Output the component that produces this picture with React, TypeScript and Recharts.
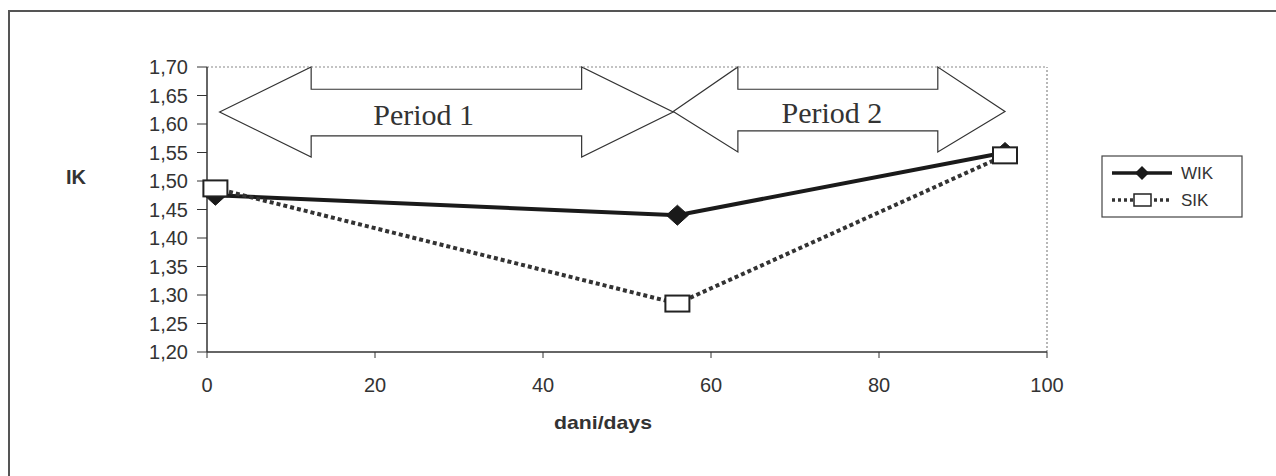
import React from 'react';
import { LineChart, Line, XAxis, YAxis, ReferenceLine, ReferenceArea, Legend } from 'recharts';

const days = [1, 56, 95];
const wikValues = [1.475, 1.44, 1.55];
const sikValues = [1.487, 1.285, 1.545];
const xTicks = [0, 20, 40, 60, 80, 100];
const yTicks = [1.2, 1.25, 1.3, 1.35, 1.4, 1.45, 1.5, 1.55, 1.6, 1.65, 1.7];

const periodNames = ['Period 1', 'Period 2'];
const arrowLeftTip = [1.5, 55.5];
const arrowShaftStart = [12.4, 63.2];
const arrowShaftEnd = [44.6, 87.0];
const arrowRightTip = [55.5, 95.0];
const arrowTipY = [1.621, 1.622];
const arrowHeadTop = [1.7, 1.7];
const arrowHeadBottom = [1.542, 1.551];
const arrowShaftTop = [1.661, 1.661];
const arrowShaftBottom = [1.579, 1.588];
const periodLabelX = [25.8, 74.4];
const periodLabelY = [1.598, 1.602];

const data = days.map((d, i) => ({ day: d, WIK: wikValues[i], SIK: sikValues[i] }));

const SANS = '"Liberation Sans", Arial, sans-serif';
const SERIF = '"Liberation Serif", "Times New Roman", serif';

const fmt = (v: number) => v.toFixed(2).replace('.', ',');

const makeArrowShape = (i: number) => (props: any) => {
  const { x, y, width, height } = props;
  const x1 = arrowLeftTip[i];
  const x2 = arrowRightTip[i];
  const y1 = arrowHeadBottom[i];
  const y2 = arrowHeadTop[i];
  const px = (v: number) => x + ((v - x1) / (x2 - x1)) * width;
  const py = (v: number) => y + ((y2 - v) / (y2 - y1)) * height;
  const pts = [
    [px(arrowLeftTip[i]), py(arrowTipY[i])],
    [px(arrowShaftStart[i]), py(arrowHeadTop[i])],
    [px(arrowShaftStart[i]), py(arrowShaftTop[i])],
    [px(arrowShaftEnd[i]), py(arrowShaftTop[i])],
    [px(arrowShaftEnd[i]), py(arrowHeadTop[i])],
    [px(arrowRightTip[i]), py(arrowTipY[i])],
    [px(arrowShaftEnd[i]), py(arrowHeadBottom[i])],
    [px(arrowShaftEnd[i]), py(arrowShaftBottom[i])],
    [px(arrowShaftStart[i]), py(arrowShaftBottom[i])],
    [px(arrowShaftStart[i]), py(arrowHeadBottom[i])],
  ];
  return (
    <g>
      <polygon
        points={pts.map((p) => p.join(',')).join(' ')}
        fill="none"
        stroke="#333"
        strokeWidth={1.2}
      />
      <text
        x={px(periodLabelX[i])}
        y={py(periodLabelY[i])}
        textAnchor="middle"
        fontFamily={SERIF}
        fontSize={30}
        fill="#333"
      >
        {periodNames[i]}
      </text>
    </g>
  );
};

const XTick = (props: any) => {
  const { x, y, payload } = props;
  return (
    <text
      x={x}
      y={y + 34}
      textAnchor="middle"
      fontFamily={SANS}
      fontSize={20}
      fill="#333"
    >
      {payload.value}
    </text>
  );
};

const YTick = (props: any) => {
  const { x, y, payload } = props;
  return (
    <text
      x={x - 9}
      y={y + 7}
      textAnchor="end"
      fontFamily={SANS}
      fontSize={20}
      fill="#333"
    >
      {fmt(payload.value)}
    </text>
  );
};

const DiamondDot = (props: any) => {
  const { cx, cy, index } = props;
  if (cx == null || cy == null) return null;
  return (
    <polygon
      key={`w-${index}`}
      points={`${cx - 11},${cy} ${cx},${cy - 10} ${cx + 11},${cy} ${cx},${cy + 10}`}
      fill="#1a1a1a"
      stroke="#1a1a1a"
    />
  );
};

const SquareDot = (props: any) => {
  const { cx, cy, index } = props;
  if (cx == null || cy == null) return null;
  return (
    <rect
      key={`s-${index}`}
      x={cx - 12}
      y={cy - 8}
      width={24}
      height={16}
      fill="#fff"
      stroke="#222"
      strokeWidth={2}
    />
  );
};

const LegendBox = () => (
  <svg width={142} height={63} style={{ display: 'block' }}>
    <rect x={1} y={1} width={140} height={61} fill="#fff" stroke="#444" strokeWidth={1.2} />
    <line x1={11} y1={18} x2={71} y2={18} stroke="#1a1a1a" strokeWidth={3.5} />
    <polygon points="34,18 41,11 48,18 41,25" fill="#1a1a1a" />
    <text x={80} y={24} fontFamily={SANS} fontSize={17} fill="#333">WIK</text>
    <line x1={11} y1={45} x2={71} y2={45} stroke="#333" strokeWidth={3.5} strokeDasharray="3 3" />
    <rect x={33} y={39} width={17} height={12} fill="#fff" stroke="#222" strokeWidth={1.5} />
    <text x={80} y={51} fontFamily={SANS} fontSize={17} fill="#333">SIK</text>
  </svg>
);

export default function App() {
  return (
    <div
      style={{
        position: 'fixed',
        left: 0,
        top: 0,
        width: 1276,
        height: 476,
        background: '#fff',
        overflow: 'hidden',
      }}
    >
      <div
        style={{
          position: 'absolute',
          left: 8,
          top: 10,
          width: 1300,
          height: 500,
          borderLeft: '2px solid #555',
          borderTop: '2px solid #555',
        }}
      />
      <div style={{ position: 'absolute', left: 0, top: 0 }}>
        <LineChart
          width={1276}
          height={476}
          data={data}
          margin={{ top: 67, right: 229, bottom: 94, left: 147 }}
        >
          <XAxis
            dataKey="day"
            type="number"
            domain={[0, 100]}
            ticks={xTicks}
            tickSize={6}
            tickMargin={0}
            axisLine={{ stroke: '#333', strokeWidth: 1.5 }}
            tickLine={{ stroke: '#333' }}
            tick={XTick}
            height={30}
            label={{
              content: () => (
                <text
                  x={603}
                  y={429}
                  textAnchor="middle"
                  fontFamily={SANS}
                  fontSize={19}
                  fontWeight="bold"
                  fill="#333"
                  textLength={98}
                  lengthAdjust="spacingAndGlyphs"
                >
                  dani/days
                </text>
              ),
            }}
          />
          <YAxis
            type="number"
            domain={[1.2, 1.7]}
            ticks={yTicks}
            tickSize={10}
            tickMargin={0}
            width={60}
            axisLine={{ stroke: '#333', strokeWidth: 1.5 }}
            tickLine={{ stroke: '#333' }}
            tick={YTick}
            allowDataOverflow
            label={{
              content: () => (
                <text
                  x={76}
                  y={184}
                  textAnchor="middle"
                  fontFamily={SANS}
                  fontSize={20}
                  fontWeight="bold"
                  fill="#333"
                >
                  IK
                </text>
              ),
            }}
          />
          <ReferenceLine y={1.7} stroke="#888" strokeDasharray="2 2" strokeWidth={1.2} />
          <ReferenceLine x={100} stroke="#888" strokeDasharray="2 2" strokeWidth={1.2} />
          {periodNames.map((name, i) => (
            <ReferenceArea
              key={name}
              x1={arrowLeftTip[i]}
              x2={arrowRightTip[i]}
              y1={arrowHeadBottom[i]}
              y2={arrowHeadTop[i]}
              ifOverflow="visible"
              shape={makeArrowShape(i)}
            />
          ))}
          <Line
            dataKey="WIK"
            name="WIK"
            stroke="#1a1a1a"
            strokeWidth={4}
            dot={DiamondDot}
            activeDot={false}
            isAnimationActive={false}
          />
          <Line
            dataKey="SIK"
            name="SIK"
            stroke="#333"
            strokeWidth={4}
            strokeDasharray="4 3"
            dot={SquareDot}
            activeDot={false}
            isAnimationActive={false}
          />
          <Legend
            layout="vertical"
            align="center"
            verticalAlign="middle"
            wrapperStyle={{ left: 1101, top: 155, width: 142, height: 63 }}
            content={() => <LegendBox />}
          />
        </LineChart>
      </div>
    </div>
  );
}
